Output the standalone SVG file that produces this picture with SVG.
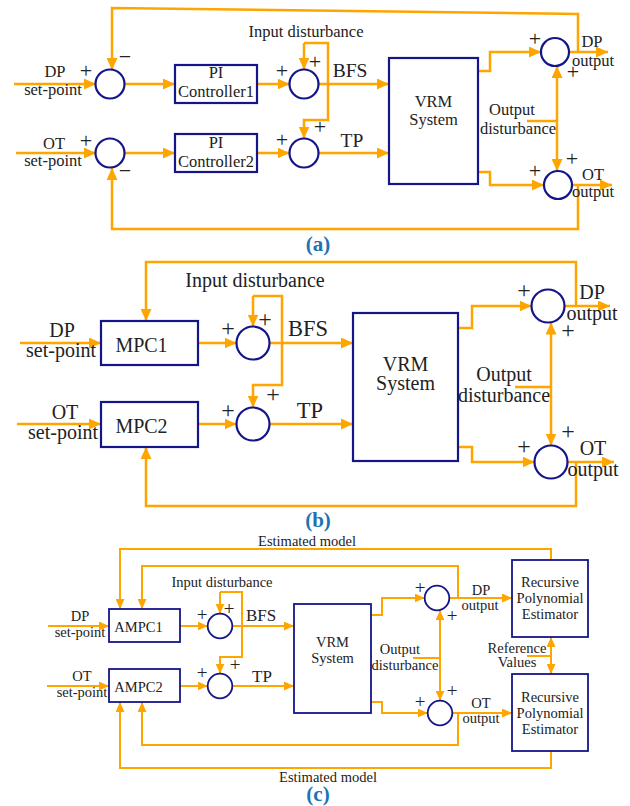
<svg xmlns="http://www.w3.org/2000/svg" width="630" height="806" viewBox="0 0 630 806">
<defs>
<marker id="arA" markerUnits="userSpaceOnUse" markerWidth="12" markerHeight="11" refX="12" refY="5.5" orient="auto-start-reverse"><path d="M0,0 L12,5.5 L0,11 z" fill="#FFA500"/></marker>
<marker id="arC" markerUnits="userSpaceOnUse" markerWidth="10" markerHeight="9" refX="10" refY="4.5" orient="auto-start-reverse"><path d="M0,0 L10,4.5 L0,9 z" fill="#FFA500"/></marker>
</defs>
<style>
.w{fill:none;stroke:#FFA500;stroke-width:2.5}
.wc{fill:none;stroke:#FFA500;stroke-width:2}
.a{marker-end:url(#arA)}
.c{marker-end:url(#arC)}
.da{marker-start:url(#arA);marker-end:url(#arA)}
.dc{marker-start:url(#arC);marker-end:url(#arC)}
.n{fill:#fff;stroke:#15158a;stroke-width:2.2}
.nc{fill:#fff;stroke:#15158a;stroke-width:1.8}
text{font-family:'Liberation Serif','DejaVu Serif','Times New Roman',serif;fill:#222;text-anchor:middle}
.ta{font-size:16.5px}
.tb{font-size:20px}
.tc{font-size:14.5px}
.pa{font-size:22px}
.pb{font-size:24px}
.pc{font-size:19px}
.lab{font-size:21px;font-weight:bold;fill:#1b72b5}
</style>

<g id="connectors">
<path class="w a" d="M14,84 H96"/>
<path class="w a" d="M16,153 H96"/>
<path class="w a" d="M124.5,84 H175"/>
<path class="w a" d="M124.5,153 H175"/>
<path class="w a" d="M257,84 H289.5"/>
<path class="w a" d="M257,153 H289.5"/>
<path class="w a" d="M318.5,84 H389"/>
<path class="w a" d="M318.5,153 H389"/>
<path class="w a" d="M304,43 H328 V120 H304 V138.5"/>
<path class="w a" d="M304,43 V69.5"/>
<path class="w a" d="M578,52 V14 L112,8 V70"/>
<path class="w a" d="M578,185 V229 H112 V168"/>
<path class="w a" d="M478,71 H490 V52 H541"/>
<path class="w a" d="M478,172 H490 V185 H544"/>
<path class="w a" d="M569,52 H608"/>
<path class="w a" d="M572,185 H612"/>
<path class="w" d="M527,121 H557"/>
<path class="w da" d="M557,66 V171"/>
<path class="w a" d="M20,343 H101"/>
<path class="w a" d="M17,424 H101"/>
<path class="w a" d="M198,343 H236.5"/>
<path class="w a" d="M198,424 H236.5"/>
<path class="w a" d="M269.5,343 H353"/>
<path class="w a" d="M269.5,424 H353"/>
<path class="w a" d="M253,296 H282 V385 H253 V407.5"/>
<path class="w a" d="M253,296 V326.5"/>
<path class="w a" d="M576,306 V262 H146 V321"/>
<path class="w a" d="M576,462 V506 H146 V447"/>
<path class="w a" d="M458,328 H472 V306 H531.5"/>
<path class="w a" d="M458,447 H472 V462 H534.5"/>
<path class="w a" d="M564.5,306 H610"/>
<path class="w a" d="M567.5,462 H614"/>
<path class="w" d="M515,387 H551"/>
<path class="w da" d="M551,322.5 V445.5"/>
<path class="wc c" d="M48,626 H109"/>
<path class="wc c" d="M47,686 H109"/>
<path class="wc c" d="M180,626 H207.7"/>
<path class="wc c" d="M180,686 H207.7"/>
<path class="wc c" d="M232.3,626 H294"/>
<path class="wc c" d="M232.3,686 H294"/>
<path class="wc c" d="M220,592 H242 V657 H220 V673.7"/>
<path class="wc c" d="M220,592 V613.7"/>
<path class="wc c" d="M551,560 V549 H120 V609"/>
<path class="wc c" d="M458,598 V566 H142 V609"/>
<path class="wc c" d="M458,713 V745 H142 V702"/>
<path class="wc c" d="M551,751 V768 H120 V702"/>
<path class="wc c" d="M371,615 H382 V598 H424.7"/>
<path class="wc c" d="M371,702 H382 V713 H427.7"/>
<path class="wc c" d="M449.3,598 H512"/>
<path class="wc c" d="M452.3,713 H512"/>
<path class="wc" d="M413,658 H440"/>
<path class="wc dc" d="M440,610.3 V700.7"/>
<path class="wc" d="M527,656 H551"/>
<path class="wc dc" d="M551,637 V674"/>
</g>

<g font-family="'Liberation Serif', 'DejaVu Serif', serif">
<g id="a-sum1"><circle class="n" cx="110" cy="84" r="14.5"/></g>
<g id="a-sum2"><circle class="n" cx="110" cy="153" r="14.5"/></g>
<g id="a-sum3"><circle class="n" cx="304" cy="84" r="14.5"/></g>
<g id="a-sum4"><circle class="n" cx="304" cy="153" r="14.5"/></g>
<g id="a-sum5"><circle class="n" cx="555" cy="52" r="14"/></g>
<g id="a-sum6"><circle class="n" cx="558" cy="185" r="14"/></g>
<g id="a-pi1"><rect class="n" x="175" y="65" width="82" height="38"/><text class="ta" x="216" y="78">PI</text><text class="ta" x="216" y="97">Controller1</text></g>
<g id="a-pi2"><rect class="n" x="175" y="134" width="82" height="38"/><text class="ta" x="216" y="148">PI</text><text class="ta" x="216" y="167">Controller2</text></g>
<g id="a-vrm"><rect class="n" x="389" y="58" width="89" height="126"/><text class="ta" x="433.5" y="107">VRM</text><text class="ta" x="433.5" y="125">System</text></g>
<g id="a-labels">
<text class="ta" x="55" y="77">DP</text><text class="ta" x="53" y="95">set-point</text>
<text class="ta" x="54" y="149">OT</text><text class="ta" x="53" y="166">set-point</text>
<text class="pa" x="86" y="78">+</text><text class="pa" x="125" y="64">−</text>
<text class="pa" x="86" y="148">+</text><text class="pa" x="125" y="178">−</text>
<text class="pa" x="282" y="78">+</text><text class="pa" x="315" y="69">+</text>
<text class="pa" x="282" y="147">+</text><text class="pa" x="320" y="134">+</text>
<text class="ta" x="306" y="37">Input disturbance</text>
<text x="350" y="77" style="font-size:19.5px">BFS</text>
<text x="352" y="147" style="font-size:19.5px">TP</text>
<text class="ta" x="512" y="115">Output</text><text class="ta" x="518" y="134">disturbance</text>
<text class="ta" x="592" y="47">DP</text><text class="ta" x="593" y="66">output</text>
<text class="ta" x="593" y="180">OT</text><text class="ta" x="593" y="197">output</text>
<text class="pa" x="535" y="46">+</text><text class="pa" x="573" y="79">+</text>
<text class="pa" x="535" y="178">+</text><text class="pa" x="572" y="166">+</text>
<text class="lab" x="318" y="251">(a)</text>
</g>

<g id="b-mpc1"><rect class="n" x="101" y="321" width="97" height="44"/><text class="tb" x="141.5" y="351.5">MPC1</text></g>
<g id="b-mpc2"><rect class="n" x="101" y="402" width="97" height="45"/><text class="tb" x="141.5" y="433">MPC2</text></g>
<g id="b-sum1"><circle class="n" cx="253" cy="343" r="16.5"/></g>
<g id="b-sum2"><circle class="n" cx="253" cy="424" r="16.5"/></g>
<g id="b-sum3"><circle class="n" cx="548" cy="306" r="16.5"/></g>
<g id="b-sum4"><circle class="n" cx="551" cy="462" r="16.5"/></g>
<g id="b-vrm"><rect class="n" x="353" y="313" width="105" height="148"/><text class="tb" x="405.5" y="370.5">VRM</text><text class="tb" x="405.5" y="390">System</text></g>
<g id="b-labels">
<text class="tb" x="62" y="337">DP</text><text class="tb" x="61" y="357">set-point</text>
<text class="tb" x="65" y="419">OT</text><text class="tb" x="63" y="439">set-point</text>
<text class="pb" x="228" y="336">+</text><text class="pb" x="265" y="327">+</text>
<text class="pb" x="228" y="418">+</text><text class="pb" x="273" y="402">+</text>
<text class="tb" x="255" y="287">Input disturbance</text>
<text x="308" y="336" style="font-size:22.5px">BFS</text>
<text x="310" y="418" style="font-size:22.5px">TP</text>
<text class="tb" x="504" y="381">Output</text><text class="tb" x="504" y="401.5">disturbance</text>
<text class="tb" x="592" y="299">DP</text><text class="tb" x="592" y="320">output</text>
<text class="tb" x="593" y="455">OT</text><text class="tb" x="593" y="476">output</text>
<text class="pb" x="524" y="298">+</text><text class="pb" x="568" y="338">+</text>
<text class="pb" x="524" y="454">+</text><text class="pb" x="568" y="439">+</text>
<text class="lab" x="318" y="527">(b)</text>
</g>

<g id="c-ampc1"><rect class="nc" x="109" y="609" width="71" height="33"/><text class="tc" x="138.5" y="632">AMPC1</text></g>
<g id="c-ampc2"><rect class="nc" x="109" y="669" width="71" height="33"/><text class="tc" x="138.5" y="692">AMPC2</text></g>
<g id="c-sum1"><circle class="nc" cx="220" cy="626" r="12.3"/></g>
<g id="c-sum2"><circle class="nc" cx="220" cy="686" r="12.3"/></g>
<g id="c-sum3"><circle class="nc" cx="437" cy="598" r="12.3"/></g>
<g id="c-sum4"><circle class="nc" cx="440" cy="713" r="12.3"/></g>
<g id="c-vrm"><rect class="nc" x="294" y="604" width="77" height="109"/><text class="tc" x="332.5" y="646.5">VRM</text><text class="tc" x="332.5" y="663">System</text></g>
<g id="c-rpe1"><rect class="nc" x="512" y="560" width="76" height="77"/><text class="tc" x="550" y="586.5">Recursive</text><text class="tc" x="550" y="603">Polynomial</text><text class="tc" x="550" y="619">Estimator</text></g>
<g id="c-rpe2"><rect class="nc" x="512" y="674" width="76" height="77"/><text class="tc" x="550" y="701.5">Recursive</text><text class="tc" x="550" y="718">Polynomial</text><text class="tc" x="550" y="734">Estimator</text></g>
<g id="c-labels">
<text class="tc" x="307" y="546">Estimated model</text>
<text class="tc" x="328" y="782">Estimated model</text>
<text class="tc" x="222" y="587">Input disturbance</text>
<text class="tc" x="80" y="621">DP</text><text class="tc" x="80" y="637">set-point</text>
<text class="tc" x="82" y="681">OT</text><text class="tc" x="82" y="697">set-point</text>
<text class="pc" x="202" y="620.5">+</text><text class="pc" x="229" y="614.5">+</text>
<text class="pc" x="202" y="678.5">+</text><text class="pc" x="235" y="670.5">+</text>
<text x="261" y="620.5" style="font-size:17px">BFS</text>
<text x="262" y="681.5" style="font-size:17px">TP</text>
<text class="tc" x="400" y="653.5">Output</text><text class="tc" x="405" y="670">disturbance</text>
<text class="tc" x="481" y="595">DP</text><text class="tc" x="480" y="610">output</text>
<text class="tc" x="481" y="708">OT</text><text class="tc" x="481" y="723">output</text>
<text class="pc" x="420" y="593.5">+</text><text class="pc" x="452" y="621.5">+</text>
<text class="pc" x="420" y="707.5">+</text><text class="pc" x="452" y="696.5">+</text>
<text class="tc" x="517" y="652.5">Reference</text><text class="tc" x="517" y="667">Values</text>
<text class="lab" x="318" y="801">(c)</text>
</g>
</g>
</svg>
